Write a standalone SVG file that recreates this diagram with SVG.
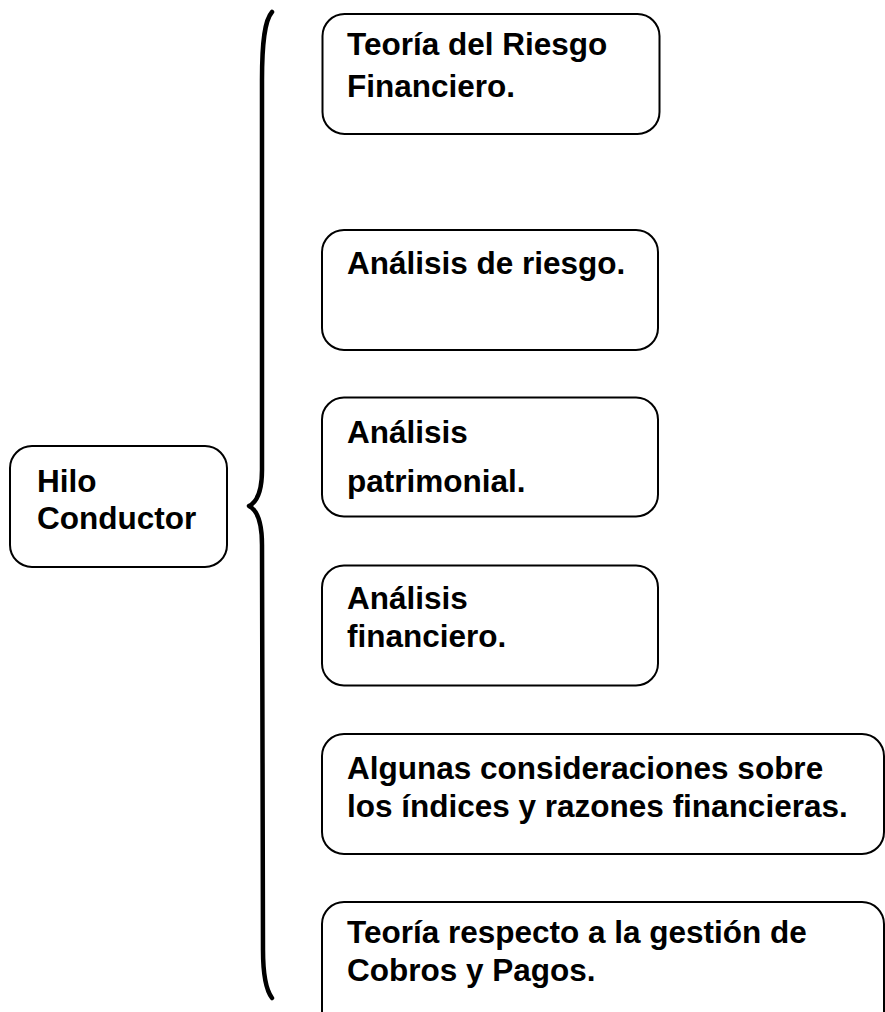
<svg xmlns="http://www.w3.org/2000/svg" width="885" height="1012" viewBox="0 0 885 1012">
  <style>
    .box { fill: #ffffff; stroke: #000000; stroke-width: 2; }
    .lbl { font-family: "Liberation Sans", Arial, sans-serif; font-weight: bold; font-size: 31.5px; fill: #000000; }
    .brace { fill: none; stroke: #000000; stroke-width: 4.5; stroke-linecap: round; stroke-linejoin: round; }
  </style>
  <rect width="885" height="1012" fill="#ffffff"/>
  <g id="connectors">
    <path class="brace" d="M 272,12 C 265,20 262,40 262,80 L 262,470 C 262,490 257,502 249,506 C 257,510 262,522 262,545 L 263,950 C 263,975 266,990 272,998"/>
  </g>
  <g id="hilo">
    <rect class="box" x="10" y="446" width="217" height="121" rx="22" ry="22"/>
    <text class="lbl" x="37" y="492">Hilo</text>
    <text class="lbl" x="37" y="529">Conductor</text>
  </g>
  <g id="n1">
    <rect class="box" x="322.5" y="14" width="337" height="120" rx="22" ry="22"/>
    <text class="lbl" x="347" y="55">Teoría del Riesgo</text>
    <text class="lbl" x="347" y="97">Financiero.</text>
  </g>
  <g id="n2">
    <rect class="box" x="322" y="230" width="336" height="120" rx="22" ry="22"/>
    <text class="lbl" x="347" y="274">Análisis de riesgo.</text>
  </g>
  <g id="n3">
    <rect class="box" x="322" y="397.5" width="336" height="119" rx="22" ry="22"/>
    <text class="lbl" x="347" y="443">Análisis</text>
    <text class="lbl" x="347" y="492">patrimonial.</text>
  </g>
  <g id="n4">
    <rect class="box" x="322" y="565.5" width="336" height="120" rx="22" ry="22"/>
    <text class="lbl" x="347" y="609">Análisis</text>
    <text class="lbl" x="347" y="647">financiero.</text>
  </g>
  <g id="n5">
    <rect class="box" x="322" y="734" width="562" height="120" rx="22" ry="22"/>
    <text class="lbl" x="347" y="779">Algunas consideraciones sobre</text>
    <text class="lbl" x="347" y="817">los índices y razones financieras.</text>
  </g>
  <g id="n6">
    <rect class="box" x="322" y="902" width="562" height="140" rx="22" ry="22"/>
    <text class="lbl" x="347" y="943">Teoría respecto a la gestión de</text>
    <text class="lbl" x="347" y="981">Cobros y Pagos.</text>
  </g>
</svg>
